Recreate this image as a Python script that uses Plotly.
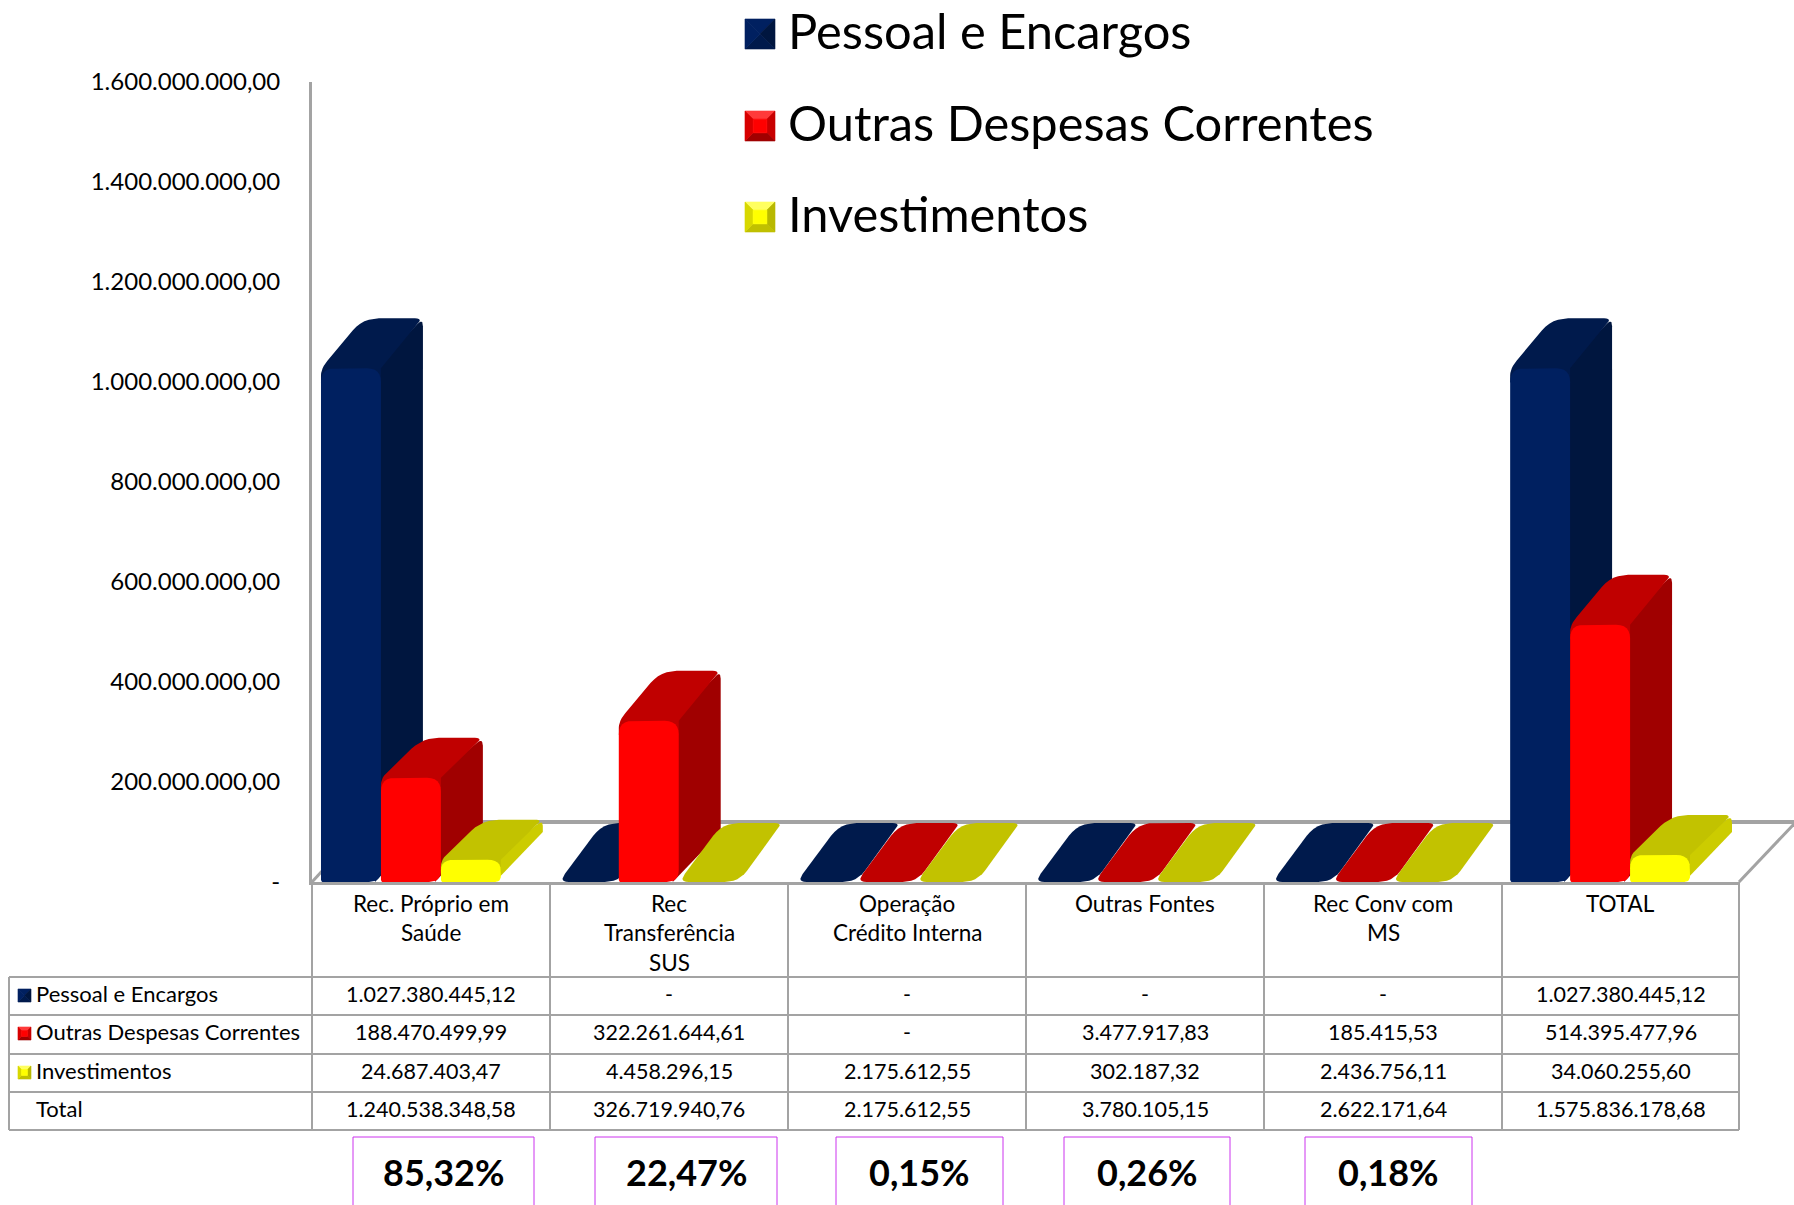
import plotly.graph_objects as go

# ---------- data ----------
categories = ["Rec. Próprio em<br>Saúde", "Rec<br>Transferência<br>SUS", "Operação<br>Crédito Interna",
              "Outras Fontes", "Rec Conv com<br>MS", "TOTAL"]
series_names = ["Pessoal e Encargos", "Outras Despesas Correntes", "Investimentos"]
pessoal = [1027380445.12, 0, 0, 0, 0, 1027380445.12]
outras = [188470499.99, 322261644.61, 0, 3477917.83, 185415.53, 514395477.96]
investimentos = [24687403.47, 4458296.15, 2175612.55, 302187.32, 2436756.11, 34060255.60]
totais = [1240538348.58, 326719940.76, 2175612.55, 3780105.15, 2622171.64, 1575836178.68]
percentuais = ["85,32%", "22,47%", "0,15%", "0,26%", "0,18%"]
y_ticks = [0, 2e8, 4e8, 6e8, 8e8, 1e9, 1.2e9, 1.4e9, 1.6e9]
y_tick_labels = ["-", "200.000.000,00", "400.000.000,00", "600.000.000,00", "800.000.000,00",
                 "1.000.000.000,00", "1.200.000.000,00", "1.400.000.000,00", "1.600.000.000,00"]

# ---------- layout constants ----------
W, H = 1794, 1205
FONT = "Lato"
GRAY = "#a3a3a3"
COLS = [312, 550, 788, 1026, 1264, 1502, 1739]
ROWS = [977, 1015, 1054, 1092, 1130]
BASE, TOP = 882, 82
PX_X = 1 / (COLS[1] - COLS[0])          # category units per pixel
PX_Y = 1.6e9 / (BASE - TOP)             # value units per pixel
BAR_W, DX, DY, GAP = 60, 42, 50, 9
FLAT_DX, FLAT_DY = 44, 59
PALETTE = [("#002060", "#00163f", "#001a4c"),
           ("#ff0000", "#a00000", "#c00000"),
           ("#ffff00", "#cccc00", "#c2c200")]
# swatch bevels: top, right, bottom, left, centre, bevel size as a share of the side
SWATCHES = [("#002060", "#00163f", "#001a4c", "#002060", "#002060", 0.5),
            ("#ff3a3a", "#c80000", "#a00000", "#d80000", "#ff0000", 0.27),
            ("#ffff60", "#b8b800", "#c0c000", "#d8d800", "#ffff00", 0.27)]


def px(x):
    return x / W


def py(y):
    return 1 - y / H


def br(v):
    if v == 0:
        return "-"
    s = f"{v:,.2f}"
    return s.replace(",", "#").replace(".", ",").replace("#", ".")


def rounded(points, radii):
    """Round polygon corners; points and radii are in pixel offsets."""
    out = []
    n = len(points)
    for i, (p, r) in enumerate(zip(points, radii)):
        a, b = points[i - 1], points[(i + 1) % n]
        if r <= 0:
            out.append(p)
            continue
        la = max(((a[0] - p[0]) ** 2 + (a[1] - p[1]) ** 2) ** 0.5, 1e-6)
        lb = max(((b[0] - p[0]) ** 2 + (b[1] - p[1]) ** 2) ** 0.5, 1e-6)
        ra, rb = min(r, la / 2), min(r, lb / 2)
        s = (p[0] + (a[0] - p[0]) * ra / la, p[1] + (a[1] - p[1]) * ra / la)
        e = (p[0] + (b[0] - p[0]) * rb / lb, p[1] + (b[1] - p[1]) * rb / lb)
        for k in range(7):
            t = k / 6
            out.append(((1 - t) ** 2 * s[0] + 2 * t * (1 - t) * p[0] + t ** 2 * e[0],
                        (1 - t) ** 2 * s[1] + 2 * t * (1 - t) * p[1] + t ** 2 * e[1]))
    return out


fig = go.Figure()


def face(cat, pts, radii, color):
    """pts are pixel offsets from a category's left edge and the chart's zero line."""
    pts = rounded(pts, radii)
    pts = pts + [pts[0]]
    fig.add_trace(go.Scatter(
        x=[cat + p[0] * PX_X for p in pts],
        y=[p[1] * PX_Y for p in pts],
        mode="lines", fill="toself", fillcolor=color, line=dict(width=0, color=color),
        hoverinfo="skip", showlegend=False))


for c in range(len(categories)):
    for s, vals in enumerate([pessoal, outras, investimentos]):
        v = vals[c]
        front_c, side_c, top_c = PALETTE[s]
        x0 = GAP + s * BAR_W
        x1 = x0 + BAR_W
        h = v / PX_Y
        if h < 5:
            # flat bar: only its top face is visible on the floor
            face(c, [(x0, 0), (x1, 0), (x1 + FLAT_DX, FLAT_DY), (x0 + FLAT_DX, FLAT_DY)],
                 [10, 14, 8, 16], top_c)
            continue
        back = h + DY
        # low bars carry a bevel lip above the value, as in the 3-D rendering
        fh = h + 10 if h < 130 else h
        r = min(14, fh * 0.6)
        # right side
        face(c, [(x1 - 6, 0), (x1 + DX, DY), (x1 + DX, back), (x1 - 6, fh)], [0, 0, 8, 0], side_c)
        # top, with a foot that fills behind the rounded front corners
        face(c, [(x0, fh - r), (x1, fh - r), (x1, fh), (x1 + DX, back), (x0 + DX, back), (x0, fh)],
             [0, 0, 0, 8, 16, 10], top_c)
        # front
        face(c, [(x0, 0), (x1, 0), (x1, fh), (x0, fh)], [2, 12 if fh > 30 else 6, r, r], front_c)

shapes = []


def line(x0, y0, x1, y1, color=GRAY, width=2):
    shapes.append(dict(type="line", xref="paper", yref="paper", x0=px(x0), y0=py(y0), x1=px(x1), y1=py(y1),
                       line=dict(color=color, width=width), layer="below"))


# floor and wall
line(312, 882, 367, 822, width=3)
line(367, 822, 1794, 822, width=4)
line(1739, 882, 1794, 824, width=3)
# table grid
for x in COLS:
    line(x, 882, x, ROWS[-1])
line(9, ROWS[0], 9, ROWS[-1])
for y in ROWS:
    line(9, y, COLS[-1], y)
# percent boxes, open at the bottom edge of the page
BOXES = [(353, 534), (595, 777), (836, 1003), (1064, 1230), (1305, 1472)]
for a, b in BOXES:
    line(a, 1137, b, 1137, "#cc33ee", 1)
    line(a, 1137, a, 1205, "#cc33ee", 1)
    line(b, 1137, b, 1205, "#cc33ee", 1)


def swatch(x0, y0, size, colors):
    top, right, bottom, left, centre, share = colors
    b = size * share
    x1, y1 = x0 + size, y0 + size
    polys = [([(x0, y0), (x1, y0), (x1 - b, y0 + b), (x0 + b, y0 + b)], top),
             ([(x1, y0), (x1, y1), (x1 - b, y1 - b), (x1 - b, y0 + b)], right),
             ([(x0, y1), (x1, y1), (x1 - b, y1 - b), (x0 + b, y1 - b)], bottom),
             ([(x0, y0), (x0, y1), (x0 + b, y1 - b), (x0 + b, y0 + b)], left),
             ([(x0 + b, y0 + b), (x1 - b, y0 + b), (x1 - b, y1 - b), (x0 + b, y1 - b)], centre)]
    for pts, col in polys:
        path = "M " + " L ".join(f"{px(a):.5f},{py(c):.5f}" for a, c in pts) + " Z"
        shapes.append(dict(type="path", xref="paper", yref="paper", path=path, fillcolor=col,
                           line=dict(width=0.6, color=col), layer="above"))


annotations = []


def label(x, y, text, size, anchor="center", bold=False):
    annotations.append(dict(xref="paper", yref="paper", x=px(x), y=py(y), text=f"<b>{text}</b>" if bold else text,
                            showarrow=False, xanchor=anchor, yanchor="middle",
                            font=dict(family=FONT, size=size, color="#000000"),
                            borderpad=0, borderwidth=0))


# big legend
for name, yc, colors in zip(series_names, [34, 126, 217], SWATCHES):
    swatch(745, yc - 15, 30, colors)
    label(788, yc - 4, name, 48.8, "left")

# category headers
for i, cat in enumerate(categories):
    xc = (COLS[i] + COLS[i + 1]) / 2
    for j, part in enumerate(cat.split("<br>")):
        label(xc, 903 + j * 29.6, part, 22.5)

# table rows
rows = [(series_names[0], pessoal, SWATCHES[0]), (series_names[1], outras, SWATCHES[1]),
        (series_names[2], investimentos, SWATCHES[2]), ("Total", totais, None)]
for (name, vals, colors), yc in zip(rows, [993, 1031, 1070, 1108]):
    if colors:
        swatch(18, yc - 4, 13, colors)
    label(36, yc, name, 22, "left")
    for i, v in enumerate(vals):
        label((COLS[i] + COLS[i + 1]) / 2, yc + 1, br(v), 21.5)

# percentages
for (a, b), text in zip(BOXES, percentuais):
    label((a + b) / 2, 1172, text, 36, bold=True)

fig.update_layout(
    width=W, height=H, margin=dict(l=0, r=0, t=0, b=0, autoexpand=False), autosize=False,
    paper_bgcolor="white", plot_bgcolor="rgba(0,0,0,0)", showlegend=False,
    shapes=shapes, annotations=annotations,
    xaxis=dict(domain=[px(COLS[0]), px(COLS[-1])], range=[0, 6], showgrid=False, zeroline=False,
               showticklabels=False, ticks="", showline=True, linecolor=GRAY, linewidth=3, fixedrange=True),
    yaxis=dict(domain=[py(BASE), py(TOP)], range=[0, 1.6e9], showgrid=False, zeroline=False,
               tickmode="array", tickvals=y_ticks, ticktext=y_tick_labels, ticks="",
               ticklabelstandoff=24, tickfont=dict(family=FONT, size=24, color="#000000"),
               showline=True, linecolor=GRAY, linewidth=3, fixedrange=True),
)

fig.write_html("out.html", config={"displayModeBar": False},
               post_script="document.body.style.margin='0';document.body.style.overflow='hidden';")
